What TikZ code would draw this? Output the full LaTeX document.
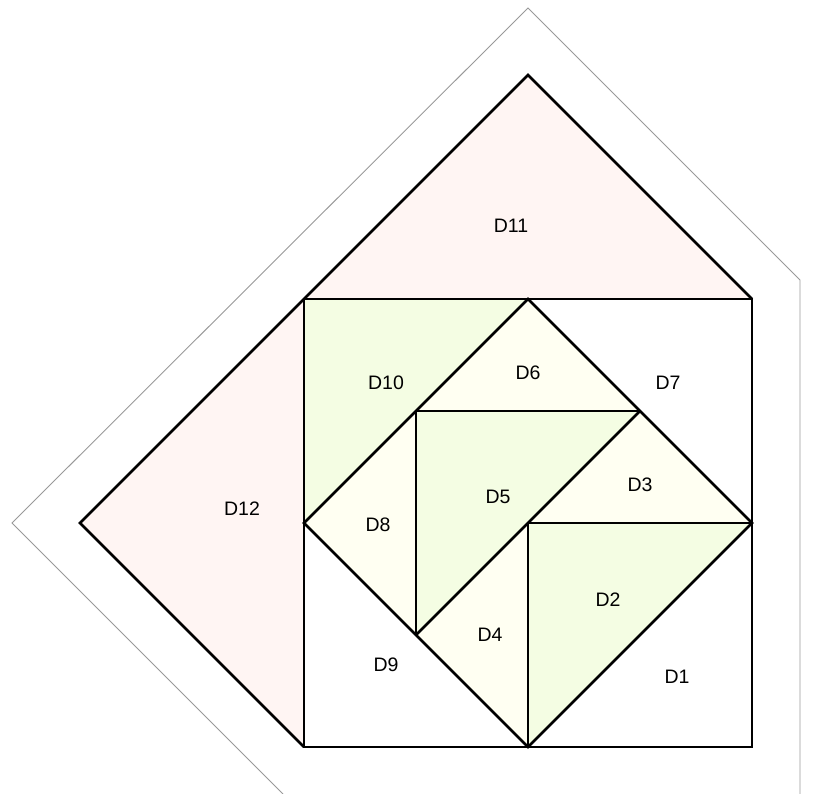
\documentclass[tikz,border=0pt]{standalone}
\usepackage{fontspec}
\setmainfont{Liberation Sans}
\definecolor{pinkf}{HTML}{FFF5F3}
\definecolor{greenf}{HTML}{F4FDE3}
\definecolor{yellowf}{HTML}{FFFFF2}
\definecolor{grayl}{HTML}{999999}
\begin{document}
\begin{tikzpicture}[x=1pt,y=-1pt,
  piece/.style={draw=black,line width=2.8pt,line join=miter},
  outl/.style={draw=grayl,line width=0.9pt},
  lab/.style={font=\fontsize{19.5}{22}\selectfont,inner sep=0pt}]
\useasboundingbox (0,0) rectangle (813,794);
% points
\coordinate (A) at (528,75);
\coordinate (TL) at (304,299);
\coordinate (TR) at (752,299);
\coordinate (BL) at (304,747);
\coordinate (BR) at (752,747);
\coordinate (L) at (80,523);
\coordinate (TM) at (528,299);
\coordinate (RM) at (752,523);
\coordinate (BM) at (528,747);
\coordinate (LM) at (304,523);
\coordinate (C) at (528,523);
\coordinate (P) at (416,411);
\coordinate (Q) at (640,411);
\coordinate (R) at (416,635);
% outer gray outline
\draw[outl] (283,794) -- (12,523) -- (528,8) -- (800,280) -- (800,794);
% fills
\fill[pinkf] (TL) -- (A) -- (TR) -- cycle;
\fill[pinkf] (TL) -- (L) -- (BL) -- cycle;
\fill[greenf] (TL) -- (TM) -- (LM) -- cycle;
\fill[greenf] (P) -- (Q) -- (R) -- cycle;
\fill[greenf] (C) -- (RM) -- (BM) -- cycle;
\fill[yellowf] (TM) -- (Q) -- (P) -- cycle;
\fill[yellowf] (Q) -- (RM) -- (C) -- cycle;
\fill[yellowf] (LM) -- (P) -- (R) -- cycle;
\fill[yellowf] (R) -- (C) -- (BM) -- cycle;
% lines
\draw[piece] (TL) -- (A) -- (TR);
\draw[piece] (TL) -- (L) -- (BL);
\draw[piece] (TL) rectangle (BR);
\draw[piece] (TM) -- (RM) -- (BM) -- (LM) -- cycle;
\draw[piece] (P) -- (Q);
\draw[piece] (P) -- (R);
\draw[piece] (Q) -- (R);
\draw[piece] (C) -- (RM);
\draw[piece] (C) -- (BM);
% labels
\node[lab] (d11) at (511,226) {D11};
\node[lab] (d10) at (386,383) {D10};
\node[lab] (d6) at (528,373) {D6};
\node[lab] (d7) at (668,383) {D7};
\node[lab] (d12) at (242,509) {D12};
\node[lab] (d8) at (378,525) {D8};
\node[lab] (d5) at (498,497) {D5};
\node[lab] (d3) at (640,485) {D3};
\node[lab] (d2) at (608,600) {D2};
\node[lab] (d4) at (490,635) {D4};
\node[lab] (d9) at (386,665) {D9};
\node[lab] (d1) at (677,677) {D1};
\end{tikzpicture}
\end{document}
